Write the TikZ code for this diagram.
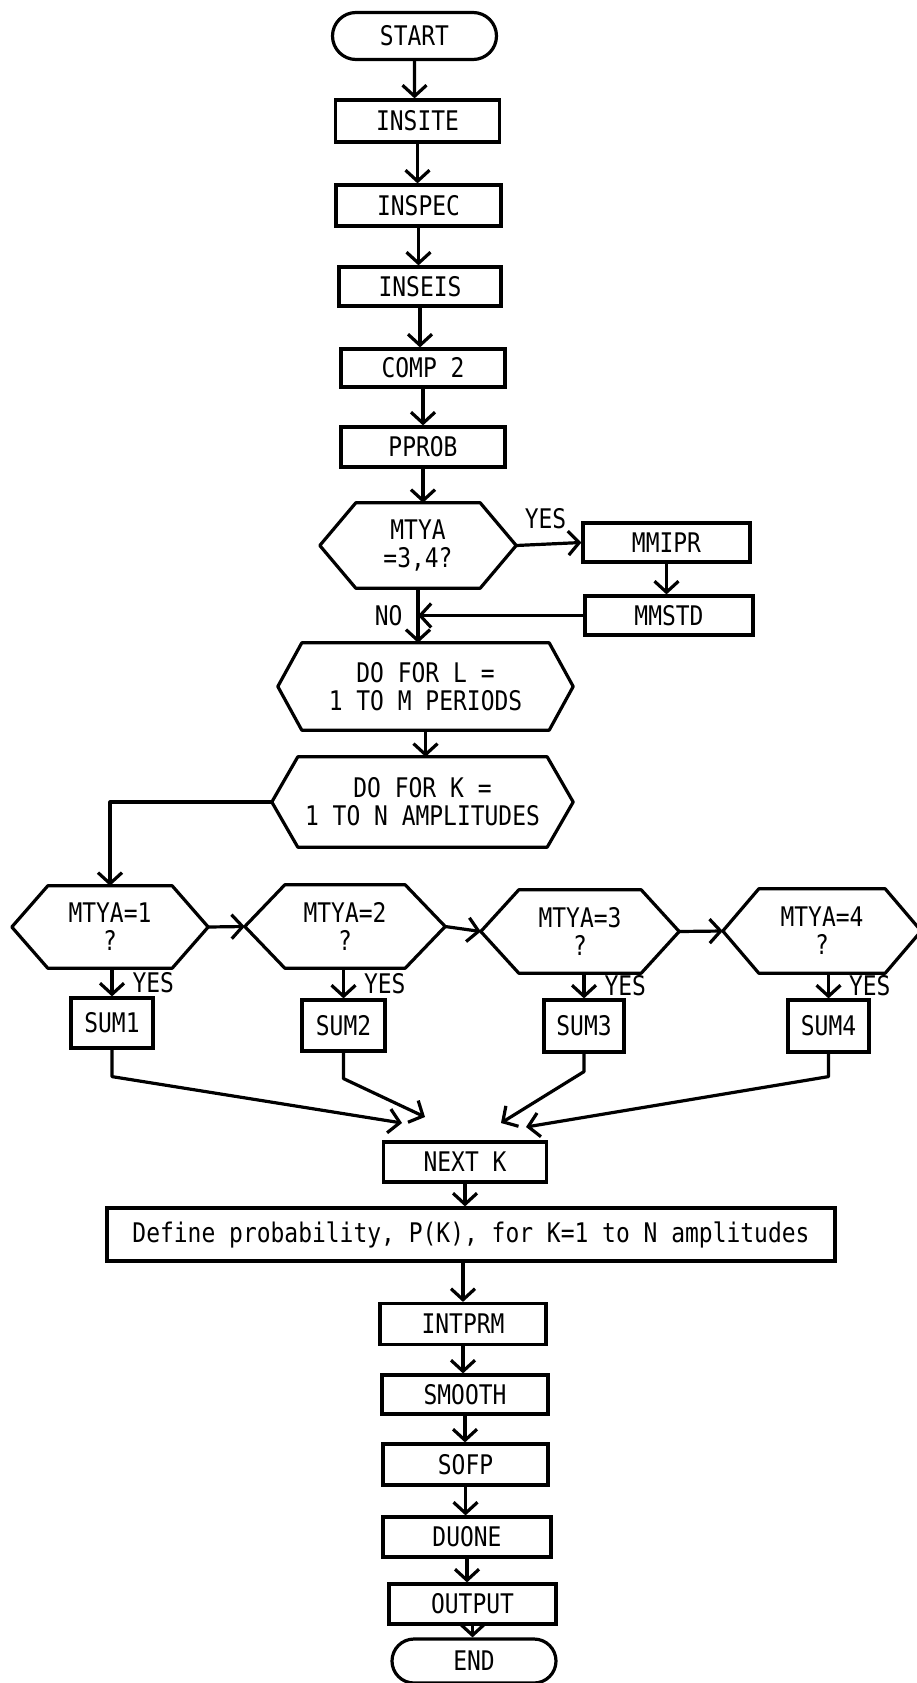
\documentclass[tikz,border=0pt]{standalone}
\usepackage{fontspec}
\setmonofont{DejaVu Sans Mono}[FakeStretch=0.85]
\usetikzlibrary{shapes.misc,arrows.meta}

\newcommand{\tyfont}{\ttfamily\fontsize{27}{28}\selectfont}

\tikzset{
  box/.style={draw, line width=3.2pt, inner sep=0pt, font=\tyfont},
  term/.style={box, rounded rectangle},
  hexa/.style={inner sep=0pt, align=center, font=\tyfont},
  flow/.style={line width=3.2pt, line join=round, -{Straight Barb[length=11pt,width=24pt]}},
  lbl/.style={inner sep=1pt, font=\tyfont},
}

\begin{document}
\begin{tikzpicture}[x=1pt, y=-1pt]
  \useasboundingbox (0,0) rectangle (916,1683);

  % Start and input routines
  \node[term, minimum width=164, minimum height=47] (start) at (414.5,36) {START};
  \node[box, minimum width=164, minimum height=42] (insite) at (417.5,121) {INSITE};
  \node[box, minimum width=165, minimum height=41] (inspec) at (418.5,205.5) {INSPEC};
  \node[box, minimum width=162, minimum height=39] (inseis) at (420,286.5) {INSEIS};
  \node[box, minimum width=164, minimum height=38] (comp2) at (423,368) {COMP 2};
  \node[box, minimum width=164, minimum height=40] (pprob) at (423,447) {PPROB};

  % First test
  \node[hexa, minimum width=196, minimum height=85] (mtya) at (418,545.5) {MTYA\\=3,4?};
  \node[box, minimum width=167, minimum height=39] (mmipr) at (666.5,542.5) {MMIPR};
  \node[box, minimum width=168, minimum height=39] (mmstd) at (669,615.5) {MMSTD};

  % Loops
  \node[hexa, minimum width=295, minimum height=87] (dol) at (425.5,686.5) {DO FOR L =\\1 TO M PERIODS};
  \node[hexa, minimum width=301, minimum height=90] (dok) at (422.5,802) {DO FOR K =\\1 TO N AMPLITUDES};

  % Tests on MTYA
  \node[hexa, minimum width=196, minimum height=82] (q1) at (110,927) {MTYA=1\\?};
  \node[hexa, minimum width=200, minimum height=83] (q2) at (345,926.5) {MTYA=2\\?};
  \node[hexa, minimum width=198, minimum height=83] (q3) at (580,931.5) {MTYA=3\\?};
  \node[hexa, minimum width=198, minimum height=84] (q4) at (822,931) {MTYA=4\\?};

  \node[box, minimum width=82, minimum height=50] (sum1) at (112,1023) {SUM1};
  \node[box, minimum width=83, minimum height=51] (sum2) at (343.5,1025.5) {SUM2};
  \node[box, minimum width=80, minimum height=52] (sum3) at (584,1026) {SUM3};
  \node[box, minimum width=81, minimum height=52] (sum4) at (828.5,1026) {SUM4};

  % Hexagon outlines
  \foreach \n/\c in {mtya/36, dol/24, dok/26, q1/36, q2/40, q3/38, q4/36}
    \draw[line width=3.2pt, line join=round]
      ([xshift=\c]\n.north west) -- ([xshift=-\c]\n.north east) -- (\n.east)
      -- ([xshift=-\c]\n.south east) -- ([xshift=\c]\n.south west) -- (\n.west) -- cycle;

  % Rest of the run
  \node[box, minimum width=163, minimum height=40] (nextk) at (465,1162) {NEXT K};
  \node[box, minimum width=728, minimum height=53] (define) at (471,1234.5) {Define probability, P(K), for K=1 to N amplitudes};
  \node[box, minimum width=166, minimum height=41] (intprm) at (463,1324) {INTPRM};
  \node[box, minimum width=166, minimum height=39] (smooth) at (465,1394.5) {SMOOTH};
  \node[box, minimum width=165, minimum height=41] (sofp) at (465.5,1464.5) {SOFP};
  \node[box, minimum width=168, minimum height=40] (duone) at (467,1537) {DUONE};
  \node[box, minimum width=167, minimum height=40] (output) at (472.5,1604) {OUTPUT};
  \node[term, minimum width=164, minimum height=44] (end) at (474,1661) {END};

  % Arrow ends above NEXT K
  \coordinate (k1) at (402,1123);
  \coordinate (k2) at (425,1117);
  \coordinate (k3) at (501,1123);
  \coordinate (k4) at (526,1127);

  % Main line
  \foreach \a/\b in {start/insite, insite/inspec, inspec/inseis, inseis/comp2, comp2/pprob, pprob/mtya}
    \draw[flow] (\a) -- (\a |- \b.north);
  \draw[flow] (mtya.east) -- node[lbl, above=13pt, pos=0.45] {YES} (mmipr.west);
  \draw[flow] (mmipr) -- (mmipr |- mmstd.north);
  \draw[flow] (mmstd.west) -- (mmstd.west -| mtya.south);
  \draw[flow] (mtya) -- node[lbl, left=13pt] {NO} (mtya |- dol.north);
  \draw[flow] (dol) -- (dol |- dok.north);
  \draw[flow] (dok.west) -| (q1.north);

  % Branches
  \foreach \a/\b in {q1/q2, q2/q3, q3/q4}
    \draw[flow] (\a.east) -- (\b.west);
  \foreach \i in {1,...,4}
    \draw[flow] (sum\i.north |- q\i.south) -- node[lbl, right=18pt] {YES} (sum\i.north);
  \foreach \i/\d in {1/27, 2/26, 3/18, 4/23}
    \draw[flow] (sum\i.south) -- ++(0,\d) -- (k\i);

  % Output part
  \draw[flow] (nextk) -- (nextk |- define.north);
  \draw[flow] (intprm |- define.south) -- (intprm);
  \foreach \a/\b in {intprm/smooth, smooth/sofp, sofp/duone, duone/output, output/end}
    \draw[flow] (\a) -- (\a |- \b.north);
\end{tikzpicture}
\end{document}
